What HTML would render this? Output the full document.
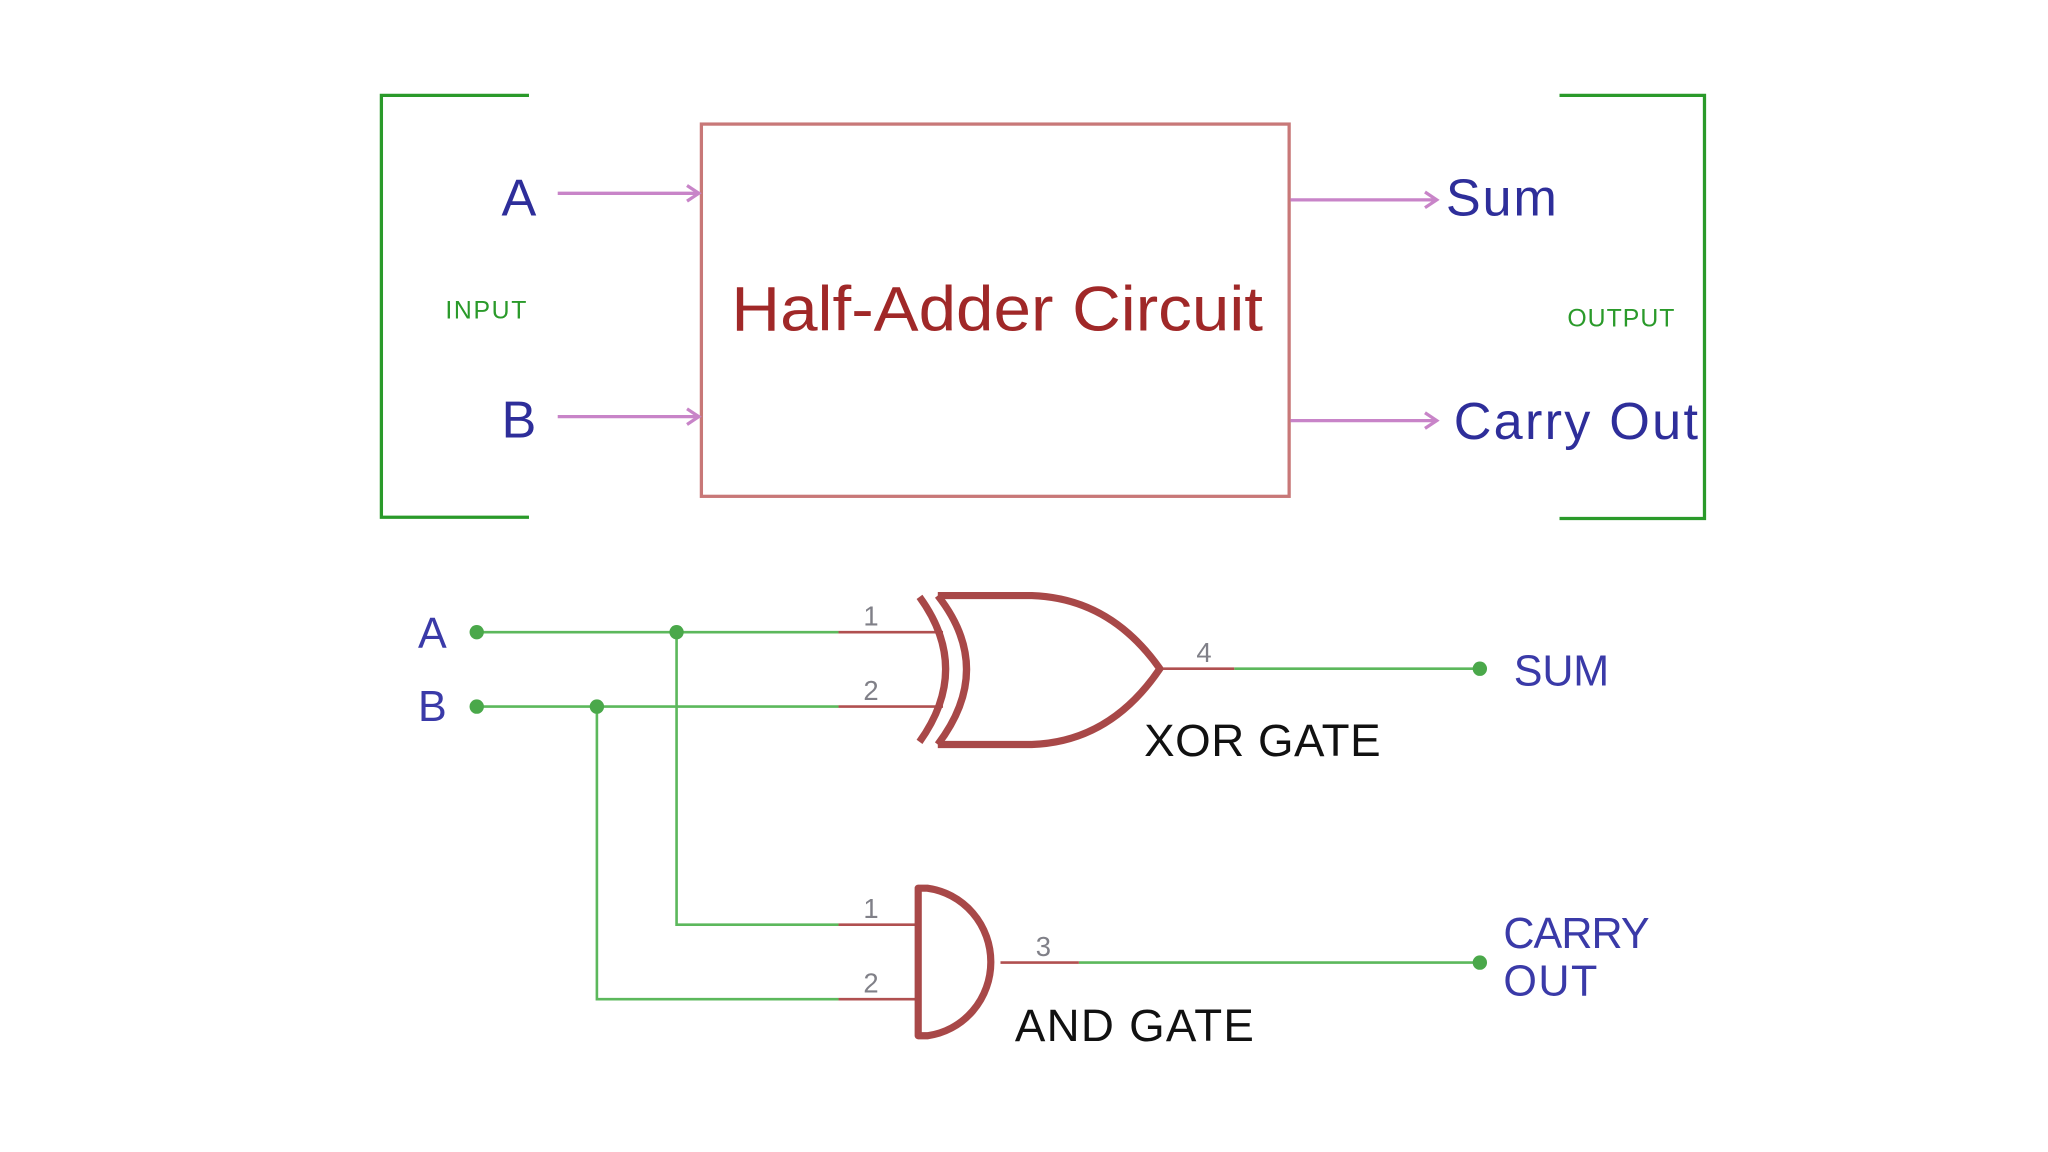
<!DOCTYPE html>
<html><head><style>html,body{margin:0;padding:0;background:#fff}svg{display:block}</style></head>
<body>
<svg width="2048" height="1152" viewBox="0 0 1568 882" xmlns="http://www.w3.org/2000/svg" font-family="Liberation Sans, DejaVu Sans, sans-serif">
<rect width="1568" height="882" fill="#fff"/>
<g stroke="#2a9a2a" stroke-width="2.5" fill="none">
<polyline points="405,73 292,73 292,396 405,396"/>
<polyline points="1194,73 1305,73 1305,397 1194,397"/>
</g>
<text x="341" y="244" font-size="19" fill="#2a9a2a" textLength="62">INPUT</text>
<text x="1200" y="250" font-size="19" fill="#2a9a2a" textLength="82">OUTPUT</text>
<rect x="537" y="95" width="450" height="285" fill="none" stroke="#c87878" stroke-width="2.5"/>
<text x="560" y="253" font-size="48" fill="#a02828" textLength="407" lengthAdjust="spacingAndGlyphs">Half-Adder Circuit</text>
<g stroke="#c884c8" stroke-width="2.5" fill="none">
<line x1="427" y1="148" x2="535" y2="148"/><polyline points="526,142 535,148 526,154"/>
<line x1="427" y1="319" x2="535" y2="319"/><polyline points="526,313 535,319 526,325"/>
<line x1="988" y1="153" x2="1100" y2="153"/><polyline points="1091,147 1100,153 1091,159"/>
<line x1="988" y1="322" x2="1100" y2="322"/><polyline points="1091,316 1100,322 1091,328"/>
</g>
<g fill="#2e2e9a" font-size="40">
<text x="384" y="165">A</text>
<text x="384" y="335">B</text>
<text x="1107" y="165" textLength="85">Sum</text>
<text x="1113" y="336" textLength="187">Carry Out</text>
</g>
<g stroke="#5cb85c" stroke-width="2" fill="none">
<line x1="365" y1="484" x2="642" y2="484"/>
<line x1="365" y1="541" x2="642" y2="541"/>
<polyline points="518,484 518,708 642,708"/>
<polyline points="457,541 457,765 642,765"/>
<line x1="945" y1="512" x2="1133" y2="512"/>
<line x1="826" y1="737" x2="1133" y2="737"/>
</g>
<g fill="#4aa84a">
<circle cx="365" cy="484" r="5.5"/><circle cx="365" cy="541" r="5.5"/>
<circle cx="518" cy="484" r="5.5"/><circle cx="457" cy="541" r="5.5"/>
<circle cx="1133" cy="512" r="5.5"/><circle cx="1133" cy="737" r="5.5"/>
</g>
<g stroke="#b05050" stroke-width="2" fill="none">
<line x1="642" y1="484" x2="722" y2="484"/>
<line x1="642" y1="541" x2="722" y2="541"/>
<line x1="888" y1="512" x2="945" y2="512"/>
<line x1="642" y1="708" x2="703" y2="708"/>
<line x1="642" y1="765" x2="703" y2="765"/>
<line x1="766" y1="737" x2="826" y2="737"/>
</g>
<g stroke="#a84848" stroke-width="5.5" fill="none" stroke-linejoin="round">
<path d="M718,456 Q762,512 718,570"/>
<path d="M704,457 Q744,512 704,568"/>
<path d="M718,456 L790,456 Q850,458 888,512 Q850,568 790,570 L718,570"/>
<path d="M703,680 L710,680 A56,57 0 0 1 710,793 L703,793 Z"/>
</g>
<g fill="#808088" font-size="21">
<text x="661" y="479">1</text><text x="661" y="536">2</text>
<text x="916" y="507">4</text>
<text x="661" y="703">1</text><text x="661" y="760">2</text>
<text x="793" y="732">3</text>
</g>
<g fill="#111" font-size="35">
<text x="876" y="579" textLength="181">XOR GATE</text>
<text x="777" y="797" textLength="183">AND GATE</text>
</g>
<g fill="#3a3aa8" font-size="33">
<text x="320" y="496">A</text>
<text x="320" y="552">B</text>
<text x="1159" y="525" textLength="73">SUM</text>
<text x="1151" y="726" textLength="112">CARRY</text>
<text x="1151" y="762" textLength="72">OUT</text>
</g>
</svg>
</body></html>
